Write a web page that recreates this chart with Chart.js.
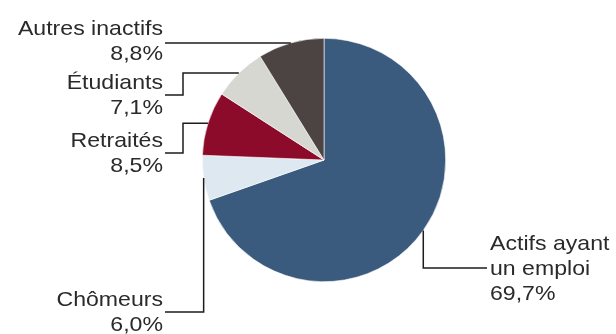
<!DOCTYPE html>
<html lang="fr">
<head>
<meta charset="utf-8">
<title>Population selon le statut d'activité</title>
<script src="https://cdn.jsdelivr.net/npm/chart.js@4.4.1/dist/chart.umd.min.js"></script>
<style>
  html, body { margin: 0; padding: 0; background: #ffffff; }
  #wrap { width: 616px; height: 334px; }
</style>
</head>
<body>
<div id="wrap"><canvas id="pie" width="616" height="334"></canvas></div>
<script>
// Répartition de la population par statut (en %)
const categories = ["Actifs ayant\nun emploi", "Chômeurs", "Retraités", "Étudiants", "Autres inactifs"];
const shares = [69.7, 6.0, 8.5, 7.1, 8.8];
const sliceColors = ["#3a5a7e", "#dde8f0", "#8c0b2b", "#d7d7d2", "#4b4442"];

// Leader lines: start on the middle of each slice's rim, then follow
// horizontal (h) / vertical (v) steps to the label.
const labelLayout = [
  { align: "left",  textX: 490, baseline: 250, steps: [["v", 268], ["h", 487]] },
  { align: "right", textX: 163, baseline: 306, steps: [["v", 312], ["h", 165]] },
  { align: "right", textX: 163, baseline: 147, steps: [["h", 183], ["v", 153], ["h", 165]] },
  { align: "right", textX: 163, baseline: 89,  steps: [["h", 183], ["v", 95], ["h", 165]] },
  { align: "right", textX: 163, baseline: 35,  steps: [["h", 165]] }
];

const fmt = v => v.toFixed(1).replace(".", ",") + "%";

const leaderLabels = {
  id: "leaderLabels",
  afterDraw(chart) {
    const ctx = chart.ctx;
    const meta = chart.getDatasetMeta(0);
    const values = chart.data.datasets[0].data;
    ctx.save();
    meta.data.forEach((arc, i) => {
      const p = arc.getProps(["x", "y", "startAngle", "endAngle", "outerRadius"], true);
      const mid = (p.startAngle + p.endAngle) / 2;
      let cx = p.x + Math.cos(mid) * p.outerRadius;
      let cy = p.y + Math.sin(mid) * p.outerRadius;
      const lay = labelLayout[i];

      ctx.beginPath();
      ctx.moveTo(cx, cy);
      lay.steps.forEach(([dir, v]) => {
        if (dir === "h") cx = v; else cy = v;
        ctx.lineTo(cx, cy);
      });
      ctx.strokeStyle = "#1c1c1c";
      ctx.lineWidth = 1.5;
      ctx.lineJoin = "miter";
      ctx.stroke();

      const lines = chart.data.labels[i].split("\n").concat([fmt(values[i])]);
      ctx.fillStyle = "#2a2a2a";
      ctx.font = "21px 'Liberation Sans', Arial, sans-serif";
      ctx.textAlign = lay.align;
      ctx.textBaseline = "alphabetic";
      lines.forEach((t, k) => {
        ctx.save();
        ctx.translate(lay.textX, lay.baseline + k * 25);
        ctx.scale(1.1, 1);
        ctx.fillText(t, 0, 0);
        ctx.restore();
      });
    });
    ctx.restore();
  }
};

new Chart(document.getElementById("pie"), {
  type: "pie",
  data: {
    labels: categories,
    datasets: [{
      data: shares,
      backgroundColor: sliceColors,
      borderColor: "#ffffff",
      borderWidth: 0.6
    }]
  },
  options: {
    responsive: false,
    devicePixelRatio: 1,
    animation: false,
    layout: { padding: { left: 202, right: 170, top: 38, bottom: 52 } },
    plugins: {
      legend: { display: false },
      tooltip: { enabled: false }
    }
  },
  plugins: [leaderLabels]
});
</script>
</body>
</html>
